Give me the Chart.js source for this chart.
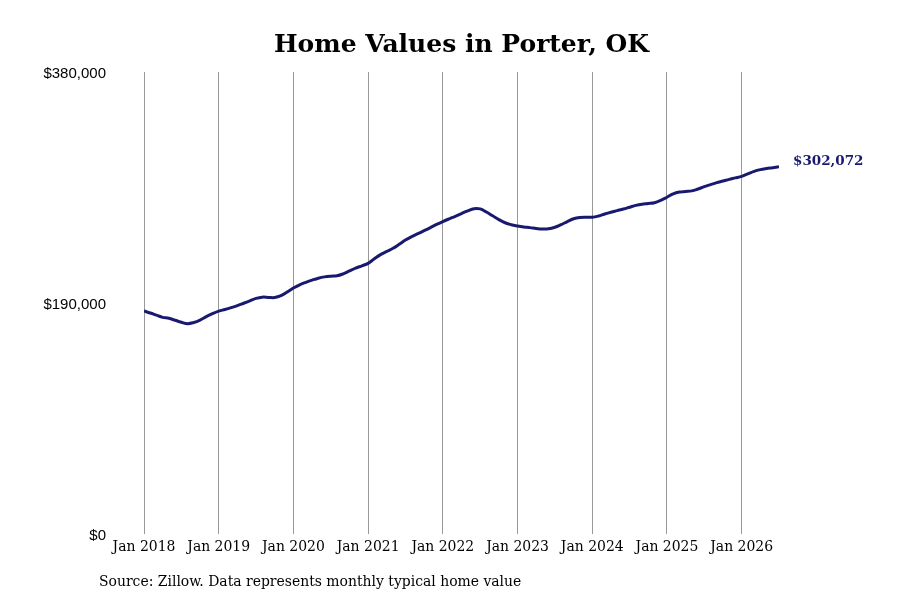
<!DOCTYPE html>
<html>
<head>
<meta charset="utf-8">
<script src="https://cdn.jsdelivr.net/npm/chart.js@4"></script>
<style>
  html, body { margin: 0; padding: 0; background: #fff; }
  #wrap { width: 900px; height: 600px; }
</style>
</head>
<body>
<div id="wrap"><canvas id="homeChart" width="900" height="600"></canvas></div>
<script>
const chartTitle = 'Home Values in Porter, OK';
const sourceNote = 'Source: Zillow. Data represents monthly typical home value';
const startYear = 2018;
const yTicks = [0, 190000, 380000];
const yearLabels = ['Jan 2018', 'Jan 2019', 'Jan 2020', 'Jan 2021', 'Jan 2022', 'Jan 2023', 'Jan 2024', 'Jan 2025', 'Jan 2026'];

// monthly typical home value, Jan 2018 .. Jul 2026
const homeValues = [
    183400, 181800, 180000, 178200, 177400, 175800, 174200, 173000, 174000, 176000, 178800, 181200,
    183300, 184700, 186200, 187800, 189800, 191800, 193800, 194800, 194600, 194500, 196000, 199000,
    202300, 205000, 207000, 208800, 210400, 211500, 212100, 212400, 214000, 216400, 218700, 220600,
    222600, 226400, 229800, 232400, 235000, 238300, 241800, 244600, 247000, 249500, 252000, 254600,
    257000, 259200, 261300, 263600, 265800, 267600, 267400, 264800, 261700, 258600, 256000, 254400,
    253400, 252600, 252000, 251300, 250800, 251000, 252300, 254500, 257000, 259300, 260400, 260600,
    260500, 261500, 263200, 264700, 266000, 267300, 268800, 270300, 271300, 271800, 272500, 274400,
    277000, 279800, 281300, 281700, 282200, 283800, 285700, 287400, 289000, 290300, 291700, 292900,
    294200, 296200, 298300, 299700, 300600, 301300, 302072
];

const lineColor = '#191970';
const points = homeValues.map((v, i) => ({ x: i, y: v }));

const money = v => '$' + Math.round(v).toLocaleString('en-US');

const textPlugin = {
    id: 'textPlugin',
    afterDraw(chart) {
        const ctx = chart.ctx;
        const area = chart.chartArea;
        ctx.save();
        ctx.fillStyle = '#000';
        ctx.textAlign = 'center';
        ctx.textBaseline = 'middle';
        ctx.font = 'bold 25px "DejaVu Serif"';
        ctx.fillText(chartTitle, (area.left + area.right) / 2, 45);

        ctx.textAlign = 'left';
        ctx.font = '15.5px "DejaVu Serif Condensed", "DejaVu Serif"';
        ctx.fillText(sourceNote, 99, 582);

        const meta = chart.getDatasetMeta(0);
        const last = meta.data[meta.data.length - 1];
        ctx.fillStyle = lineColor;
        ctx.font = 'bold 13.5px "DejaVu Serif"';
        ctx.fillText(money(homeValues[homeValues.length - 1]), last.x + 14, last.y - 5);
        ctx.restore();
    }
};

new Chart(document.getElementById('homeChart'), {
    type: 'line',
    data: {
        datasets: [{
            data: points,
            borderColor: lineColor,
            borderWidth: 3,
            pointRadius: 0,
            tension: 0.4,
            fill: false
        }]
    },
    options: {
        responsive: false,
        animation: false,
        layout: { padding: { top: 72, right: 121, bottom: 0, left: 0 } },
        plugins: { legend: { display: false }, tooltip: { enabled: false } },
        scales: {
            x: {
                type: 'linear',
                min: 0,
                max: homeValues.length - 1,
                border: { display: false },
                grid: { color: '#999', lineWidth: 1, drawTicks: false },
                afterFit: s => { s.height = 66; },
                ticks: {
                    stepSize: 12,
                    includeBounds: false,
                    padding: 4,
                    color: '#000',
                    maxRotation: 0,
                    font: { family: '"DejaVu Serif Condensed", "DejaVu Serif"', size: 15.5 },
                    callback: v => yearLabels[Math.round(v / 12)] || ''
                }
            },
            y: {
                min: 0,
                max: 380000,
                border: { display: false },
                grid: { display: false, drawTicks: false },
                afterFit: s => { s.width = 144; },
                afterBuildTicks: s => { s.ticks = yTicks.map(v => ({ value: v })); },
                ticks: {
                    padding: 38,
                    labelOffset: 1.5,
                    color: '#000',
                    font: { family: '"Liberation Sans", Arial', size: 15 },
                    callback: v => money(v)
                }
            }
        }
    },
    plugins: [textPlugin]
});
</script>
</body>
</html>
